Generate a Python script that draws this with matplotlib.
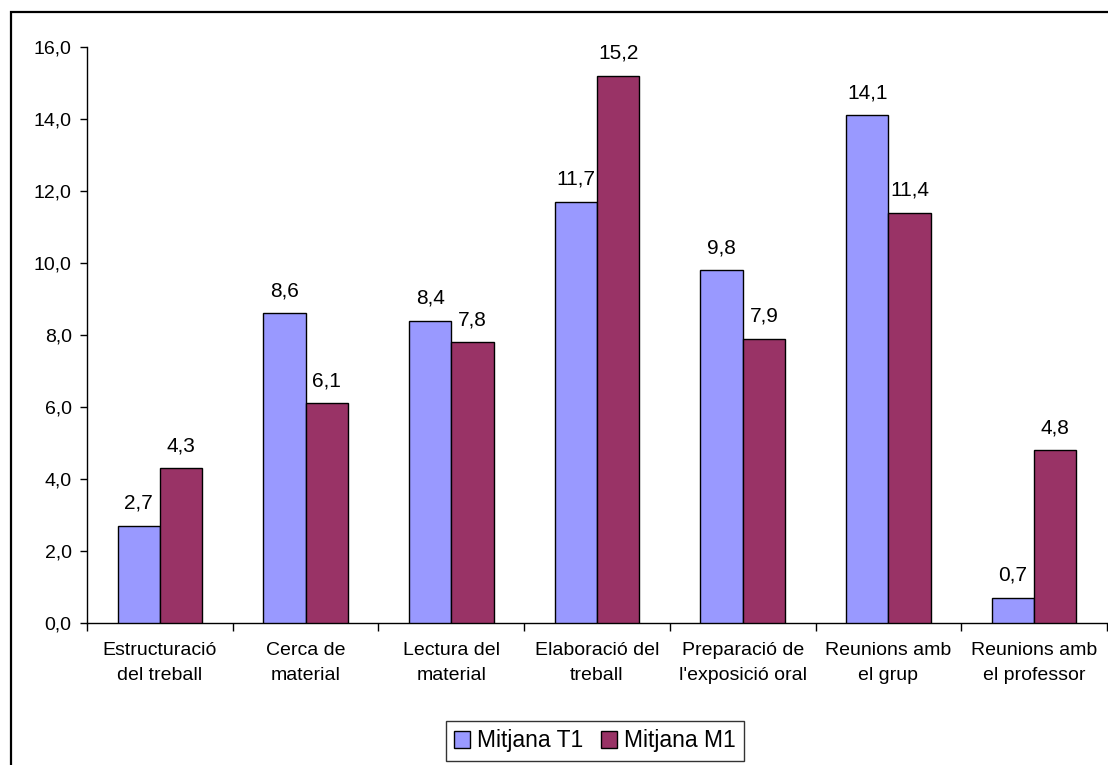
import matplotlib
matplotlib.use("Agg")
import matplotlib.pyplot as plt
from matplotlib.patches import Rectangle
from matplotlib.ticker import FuncFormatter, FixedLocator
import numpy as np

plt.rcParams['font.family'] = ['Liberation Sans', 'DejaVu Sans']

categories = [
    "Estructuració\ndel treball",
    "Cerca de\nmaterial",
    "Lectura del\nmaterial",
    "Elaboració del\ntreball",
    "Preparació de\nl'exposició oral",
    "Reunions amb\nel grup",
    "Reunions amb\nel professor",
]
mitjana_t1 = [2.7, 8.6, 8.4, 11.7, 9.8, 14.1, 0.7]
mitjana_m1 = [4.3, 6.1, 7.8, 15.2, 7.9, 11.4, 4.8]
series_names = ["Mitjana T1", "Mitjana M1"]
colors = ["#9999FF", "#993366"]

W, H = 1108, 765
fig = plt.figure(figsize=(W / 100, H / 100), dpi=100)

# outer chart frame
fig.patches.append(Rectangle((11 / W, -0.1), 1.2, 1 - 12 / H + 0.1,
                             transform=fig.transFigure, fill=False,
                             edgecolor="black", linewidth=1.6, zorder=0))

ax = fig.add_axes([87 / W, 1 - 623 / H, (1107 - 87) / W, (623 - 47) / H])

x = np.arange(len(categories))
bw = 0.29
bars1 = ax.bar(x - bw / 2, mitjana_t1, bw, color=colors[0], edgecolor="black",
               linewidth=1.0, label=series_names[0], zorder=3)
bars2 = ax.bar(x + bw / 2, mitjana_m1, bw, color=colors[1], edgecolor="black",
               linewidth=1.0, label=series_names[1], zorder=3)

fmt = lambda v: f"{v:.1f}".replace(".", ",")
for bars, vals in ((bars1, mitjana_t1), (bars2, mitjana_m1)):
    for b, v in zip(bars, vals):
        ax.annotate(fmt(v), (b.get_x() + b.get_width() / 2, v),
                    xytext=(0, 9.5), textcoords="offset points",
                    ha="center", va="bottom", fontsize=15)

ax.set_ylim(0, 16)
ax.set_xlim(-0.5, len(categories) - 0.5)
ax.set_yticks(np.arange(0, 16.1, 2))
ax.yaxis.set_major_formatter(FuncFormatter(lambda v, p: fmt(v)))
ax.tick_params(axis="y", labelsize=14, length=5, width=1, direction="out", pad=6)

ax.set_xticks(x)
ax.set_xticklabels(categories, fontsize=14, linespacing=1.55)
ax.tick_params(axis="x", which="major", length=0, pad=14)
ax.xaxis.set_minor_locator(FixedLocator(np.arange(-0.5, len(categories), 1.0)))
ax.tick_params(axis="x", which="minor", length=6, width=1, direction="out")

for s in ("top", "right"):
    ax.spines[s].set_visible(False)
for s in ("left", "bottom"):
    ax.spines[s].set_linewidth(1)

leg = fig.legend(loc="center", bbox_to_anchor=(595 / W, 1 - 741 / H),
                 ncol=2, fontsize=16.5, frameon=True, fancybox=False,
                 edgecolor="black", handlelength=0.7, handleheight=0.7,
                 handletextpad=0.3, columnspacing=0.8, borderpad=0.35,
                 borderaxespad=0)
leg.get_frame().set_linewidth(1)

fig.savefig("out.png", dpi=100, facecolor="white")
